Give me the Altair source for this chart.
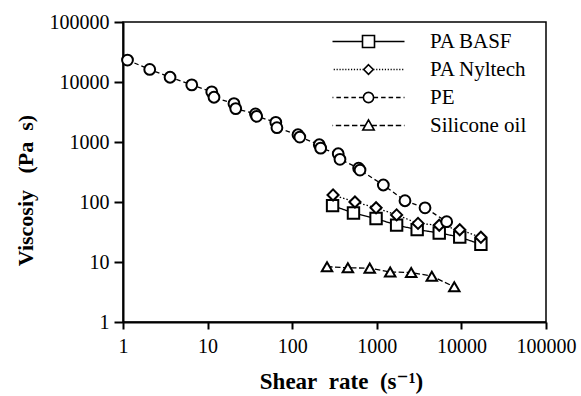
import altair as alt
import pandas as pd

series_names = ["PA BASF", "PA Nyltech", "PE", "Silicone oil"]

basf_rate = [300, 530, 980, 1715, 3000, 5470, 9560, 17000]
basf_visc = [87, 65.5, 53, 41.2, 34.6, 30.5, 26, 19.7]

nyl_rate = [304, 552, 980, 1715, 3070, 5470, 9560, 17000]
nyl_visc = [131, 100, 80, 61, 44, 41, 34.5, 25.8]

pe_rate = [1.13, 2.07, 3.6, 6.5, 11.2, 11.9, 20.5, 21.5, 36.8, 38, 64, 66,
           117, 123, 209, 217, 350, 367, 610, 633, 1194, 2153, 3715, 6700]
pe_visc = [23200, 16200, 12000, 8950, 6840, 5570, 4360, 3600, 2930, 2680, 2130, 1730,
           1320, 1210, 900, 790, 637, 515, 366, 341, 192, 105, 80, 47]

sil_rate = [258, 455, 825, 1440, 2550, 4470, 8240]
sil_visc = [8.35, 8.0, 7.9, 6.8, 6.7, 5.8, 3.86]

tick_values = [1, 10, 100, 1000, 10000, 100000]

rows = []
for name, xs, ys in zip(series_names,
                        [basf_rate, nyl_rate, pe_rate, sil_rate],
                        [basf_visc, nyl_visc, pe_visc, sil_visc]):
    for xv, yv in zip(xs, ys):
        rows.append({"series": name, "rate": xv, "visc": yv})
df = pd.DataFrame(rows)

SERIF = "Liberation Serif, Times New Roman, Times, DejaVu Serif, serif"
NB = "\u00a0"


def dashes(x0, x1, on, off, reverse=False):
    segs = []
    if not reverse:
        x = x0
        while x < x1 - 1e-6:
            e = min(x + on, x1)
            segs.append(f"M{x:.2f},0H{e:.2f}")
            x = e + off
    else:
        x = x1
        while x > x0 + 1e-6:
            s = max(x - on, x0)
            segs.append(f"M{s:.2f},0H{x:.2f}")
            x = s - off
    return "".join(segs)


legend_paths = [
    "M-6,0H-1M1,0H6M-1,-1H1V1H-1Z",
    dashes(-6, -0.8, 0.2, 0.28, True) + dashes(0.8, 6, 0.2, 0.28)
    + "M0,-0.8L0.8,0L0,0.8L-0.8,0Z",
    dashes(-6, -0.85, 0.75, 0.5, True) + dashes(0.85, 6, 0.75, 0.5)
    + "M0.85,0A0.85,0.85,0,1,1,-0.85,0A0.85,0.85,0,1,1,0.85,0Z",
    dashes(-6, -0.5, 0.9, 0.45, True) + dashes(0.5, 6, 0.9, 0.45)
    + "M0,-0.95L0.95,0.75L-0.95,0.75Z",
]

x_title = f"Shear{NB}{NB}rate{NB}{NB}(s\u207b\u00b9)"
y_title = f"Viscosiy{NB}{NB}{NB}(Pa{NB}{NB}s)"

x_enc = alt.X("rate:Q",
              scale=alt.Scale(type="log", domain=[1, 100000]),
              axis=alt.Axis(values=tick_values, format="d",
                            labelOverlap=False, labelFlush=False,
                            titleX=218,
                            title=x_title))
y_enc = alt.Y("visc:Q",
              scale=alt.Scale(type="log", domain=[1, 100000]),
              axis=alt.Axis(values=tick_values, format="d",
                            labelOverlap=False, labelFlush=False,
                            titleY=168,
                            title=y_title))

base = alt.Chart(df)

lines = base.mark_line(color="black", strokeWidth=1.3).encode(
    x=x_enc, y=y_enc,
    detail="series:N",
    strokeDash=alt.StrokeDash("series:N",
                              scale=alt.Scale(domain=series_names,
                                              range=[[1, 0], [1.5, 2], [4.5, 3], [5.5, 2.5]]),
                              legend=None),
)

points = base.mark_point(filled=True, fill="white", stroke="black",
                         strokeWidth=2, opacity=1).encode(
    x=x_enc, y=y_enc,
    shape=alt.Shape("series:N",
                    scale=alt.Scale(domain=series_names,
                                    range=["square", "diamond", "circle", "triangle-up"]),
                    legend=None),
    size=alt.Size("series:N",
                  scale=alt.Scale(domain=series_names, range=[130, 110, 140, 150]),
                  legend=None),
)

legend_layer = base.mark_point(filled=False, color="black", stroke="black",
                               strokeWidth=1.6, opacity=1).encode(
    x=x_enc, y=y_enc,
    shape=alt.Shape("series:N",
                    scale=alt.Scale(domain=series_names, range=legend_paths),
                    legend=alt.Legend(
                        title=None, orient="none", legendX=235, legendY=9,
                        symbolSize=144, symbolStrokeWidth=1.6,
                        symbolStrokeColor="black",
                        symbolOpacity=1,
                        labelFont=SERIF, labelFontSize=21,
                        labelColor="black", labelOffset=51, rowPadding=6,
                        padding=0,
                    )),
).transform_filter("false")

chart = alt.layer(lines, points, legend_layer).resolve_scale(
    shape="independent", size="independent", strokeDash="independent"
).properties(
    width=423, height=300,
    padding={"left": 123, "top": 22, "right": 35, "bottom": 74},
    autosize=alt.AutoSizeParams(type="none"),
    background="white",
).configure_view(
    stroke="black", strokeWidth=1.5
).configure_axis(
    grid=False,
    domainColor="black", domainWidth=2,
    tickColor="black", tickWidth=2,
    labelColor="black", labelFont=SERIF, labelFontSize=20,
    titleColor="black", titleFont=SERIF, titleFontSize=22,
    titleFontWeight="bold",
).configure_axisY(
    tickSize=9, labelPadding=5, titlePadding=12,
).configure_axisX(
    tickSize=7, labelPadding=7, titlePadding=14, titleFontSize=23,
)

chart.save("out.html", embed_options={"renderer": "svg", "actions": False})
